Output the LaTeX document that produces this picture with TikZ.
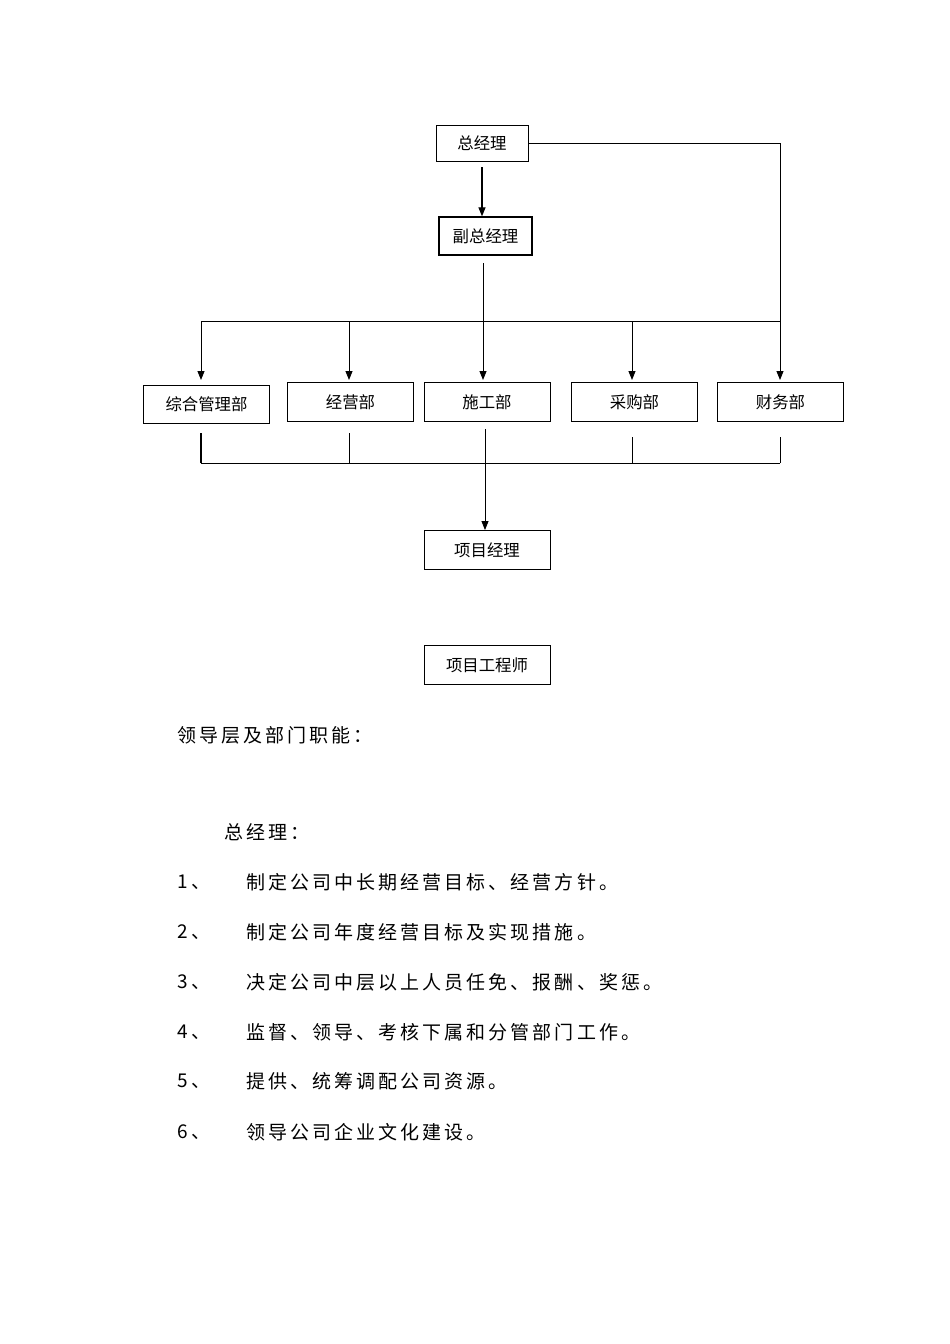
\documentclass[tikz,border=0pt]{standalone}
\usepackage{fontspec}
\setmainfont{Noto Sans CJK SC}
\newfontfamily\bodyfont[LetterSpace=16]{Noto Sans CJK SC}
\usetikzlibrary{arrows.meta}
\begin{document}
\begin{tikzpicture}
      [x=1pt,y=-1pt,line width=0.9pt,>={Triangle[length=9pt,width=7pt]},
      box node/.style={rectangle,draw,fill=white,minimum width=126pt,minimum height=39pt,font=\fontsize{16.4}{16.4}\selectfont},
      body text/.style={anchor=west,inner sep=0pt,font=\bodyfont\fontsize{19}{19}\selectfont}]
      \useasboundingbox (0,0) rectangle (950,1344);
      \node[box node,minimum width=92pt,minimum height=36pt] (gm) at (482,143) {总经理};
      \node[box node,minimum width=93pt,minimum height=38pt,line width=1.3pt] (vgm) at (485.5,236) {副总经理};
      \node[box node,minimum height=38pt] (zh) at (206.5,404) {综合管理部};
      \node[box node] (jy) at (350.5,402) {经营部};
      \node[box node] (sg) at (487,402) {施工部};
      \node[box node] (cg) at (634.5,402) {采购部};
      \node[box node] (cw) at (780.5,402) {财务部};
      \node[box node] (xmjl) at (487,550) {项目经理};
      \node[box node] (xmgcs) at (487,665) {项目工程师};
      % upper bus
      \coordinate (a1) at (482,167);
      \coordinate (a2) at (483,263);
      \coordinate (b1) at (201,321);
      \coordinate (b2) at (349,321);
      \coordinate (b3) at (483,321);
      \coordinate (b4) at (632,321);
      \coordinate (b5) at (780,321);
      \coordinate (gmr) at (780,143);
      \draw[->,line width=1.2pt] (a1) -- (a1 |- vgm.north);
      \draw (gm.east) -- (gmr) -- (b5);
      \draw (b1) -- (b5);
      \draw (a2) -- (b3);
      \draw[->] (b1) -- +(0,59);
      \draw[->] (b2) -- +(0,59);
      \draw[->] (b3) -- +(0,59);
      \draw[->] (b4) -- +(0,59);
      \draw[->] (b5) -- +(0,59);
      % lower bus
      \coordinate (l1) at (201,463);
      \coordinate (l2) at (349,463);
      \coordinate (l3) at (485,429);
      \coordinate (l4) at (632,463);
      \coordinate (l5) at (780,463);
      \draw[line width=1.8pt] (l1) -- +(0,-30);
      \draw (l2) -- +(0,-30);
      \draw (l4) -- +(0,-26);
      \draw (l5) -- +(0,-26);
      \draw (l1) -- (l5);
      \draw[->] (l3) -- (l3 |- xmjl.north);
      % text
      \node[body text] (t0) at (177,735) {领导层及部门职能：};
      \node[body text] (t1) at (224,832) {总经理：};
      \foreach \n/\y/\txt in {1/882/制定公司中长期经营目标、经营方针。,
                             2/932/制定公司年度经营目标及实现措施。,
                             3/982/决定公司中层以上人员任免、报酬、奖惩。,
                             4/1032/监督、领导、考核下属和分管部门工作。,
                             5/1081/提供、统筹调配公司资源。,
                             6/1132/领导公司企业文化建设。}
      {
        \node[body text] (n\n) at (177,\y) {\n、};
        \node[body text] (i\n) at (246,\y) {\txt};
      }
\end{tikzpicture}
\end{document}
